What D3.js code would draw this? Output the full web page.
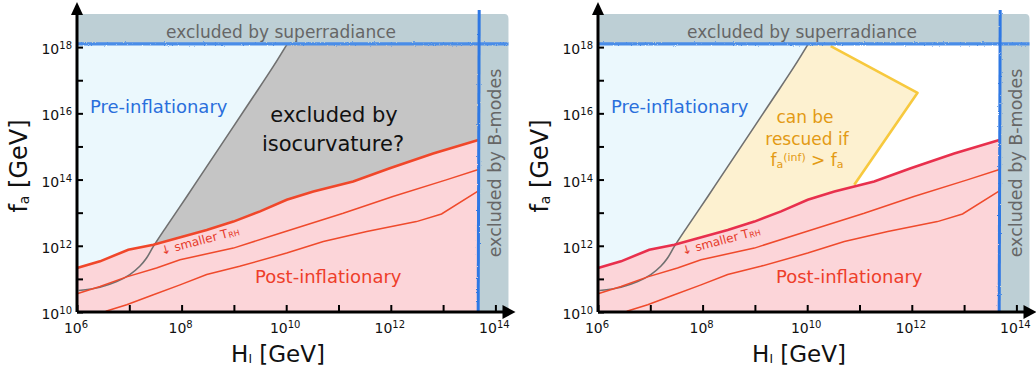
<!DOCTYPE html>
<html>
<head>
<meta charset="utf-8">
<script src="https://cdn.jsdelivr.net/npm/d3@7"></script>
<style>
  body { margin: 0; background: #fff; }
  svg { display: block; }
  text { font-family: "DejaVu Sans", sans-serif; }
</style>
</head>
<body>
<svg id="chart" width="1036" height="367"></svg>
<script>
// All values are log10 exponents: H_I and f_a in GeV.
const xTickExp = [6, 7, 8, 9, 10, 11, 12, 13, 14];
const xLabelExp = [6, 8, 10, 12, 14];
const yTickExp = [10, 11, 12, 13, 14, 15, 16, 17, 18];
const yLabelExp = [10, 12, 14, 16, 18];

// Boundary between pre- and post-inflationary PQ breaking
const boundaryHI = [6.03, 6.44, 6.76, 7.01, 7.20, 7.33, 7.46, 7.71, 8.10, 8.48, 8.99, 9.37, 9.75, 10.02];
const boundaryFa = [10.65, 10.75, 10.92, 11.13, 11.38, 11.63, 11.98, 12.58, 13.49, 14.39, 15.60, 16.50, 17.41, 18.10];

// Post-inflationary upper edge for three reheating temperatures
const reheatHighHI = [6.0, 6.44, 6.98, 7.46, 8.03, 8.48, 8.99, 9.50, 10.01, 10.52, 11.28, 11.98, 12.81, 13.69];
const reheatHighFa = [11.33, 11.53, 11.88, 12.03, 12.28, 12.48, 12.73, 13.04, 13.39, 13.64, 13.94, 14.34, 14.79, 15.20];
const reheatMidHI = [6.0, 6.44, 6.95, 7.52, 7.97, 8.99, 9.88, 11.09, 12.04, 13.06, 13.69];
const reheatMidFa = [10.55, 10.77, 11.06, 11.33, 11.58, 11.93, 12.38, 12.98, 13.49, 13.99, 14.31];
const reheatLowHI = [6.55, 6.95, 7.46, 7.97, 8.48, 9.11, 10.01, 10.71, 11.54, 12.49, 12.97, 13.69];
const reheatLowFa = [10.02, 10.22, 10.52, 10.82, 11.13, 11.38, 11.78, 12.13, 12.43, 12.73, 12.96, 13.67];

// Exclusion limits
const superradianceFa = 18.1;
const bModesHI = 13.69;

// Region that can be rescued if f_a during inflation exceeds f_a
const rescueHI = [10.45, 12.11, 10.90];
const rescueFa = [18.03, 16.62, 13.84];

const xMinExp = 6, xMaxExp = 14.25, yMinExp = 10, yMaxExp = 19;

const svg = d3.select("#chart");
const defs = svg.append("defs");
const rough = defs.append("filter").attr("id", "rough")
  .attr("filterUnits", "userSpaceOnUse")
  .attr("x", 0).attr("y", 0).attr("width", 1036).attr("height", 367);
rough.append("feTurbulence").attr("type", "fractalNoise").attr("baseFrequency", 0.9)
  .attr("numOctaves", 2).attr("result", "noise");
rough.append("feDisplacementMap").attr("in", "SourceGraphic").attr("in2", "noise")
  .attr("scale", 2.2).attr("xChannelSelector", "R").attr("yChannelSelector", "G");

const pts = (hs, fs) => hs.map((h, i) => [Math.pow(10, h), Math.pow(10, fs[i])]);

function drawPanel(ox, variant) {
  const g = svg.append("g");
  const x = d3.scaleLog().domain([Math.pow(10, xMinExp), Math.pow(10, xMaxExp)])
    .range([ox, ox + (xMaxExp - xMinExp) * 52.3]);
  const y = d3.scaleLog().domain([Math.pow(10, yMinExp), Math.pow(10, yMaxExp)])
    .range([312, 14]);
  const E = v => Math.pow(10, v);
  const line = d3.line().x(d => x(d[0])).y(d => y(d[1]));
  const smooth = d3.line().x(d => x(d[0])).y(d => y(d[1])).curve(d3.curveCatmullRom);

  const boundary = pts(boundaryHI, boundaryFa);
  const high = pts(reheatHighHI, reheatHighFa);
  const mid = pts(reheatMidHI, reheatMidFa);
  const low = pts(reheatLowHI, reheatLowFa);

  // pre-inflationary background
  g.append("rect")
    .attr("x", x(E(xMinExp))).attr("y", y(E(superradianceFa)))
    .attr("width", x(E(bModesHI)) - x(E(xMinExp)))
    .attr("height", y(E(yMinExp)) - y(E(superradianceFa)))
    .attr("fill", "#ebf8fd");

  // region right of the boundary curve
  const right = boundary.concat([[E(bModesHI), E(superradianceFa)], [E(bModesHI), E(yMinExp)], [E(boundaryHI[0]), E(yMinExp)]]);
  g.append("path").attr("d", smooth(boundary) + line(right.slice(boundary.length - 1)).replace("M", "L") + "Z")
    .attr("fill", variant === 0 ? "#c5c5c5" : "#ffffff");

  if (variant === 1) {
    const rescue = pts(rescueHI, rescueFa);
    const poly = [[E(rescueHI[0]), E(superradianceFa)]].concat(rescue, [[E(rescueHI[2]), E(yMinExp)], [E(boundaryHI[0]), E(yMinExp)]]);
    g.append("path").attr("d", smooth(boundary) + line(poly).replace("M", "L") + "Z")
      .attr("fill", "#fdf1d0");
    g.append("path").attr("d", line(rescue)).attr("fill", "none")
      .attr("stroke", "#f7c93e").attr("stroke-width", 2.6).attr("stroke-linejoin", "round");
  }

  // post-inflationary region
  const pinkPoly = high.concat([[E(bModesHI), E(yMinExp)], [E(xMinExp), E(yMinExp)]]);
  g.append("path").attr("d", line(pinkPoly) + "Z").attr("fill", "#fcd5d9");

  // boundary curve
  g.append("path").attr("d", smooth(boundary)).attr("fill", "none")
    .attr("stroke", "#707070").attr("stroke-width", 1.6);

  // reheating lines
  g.append("path").attr("d", line(low)).attr("fill", "none")
    .attr("stroke", "#ef4a2c").attr("stroke-width", 1.5);
  g.append("path").attr("d", line(mid)).attr("fill", "none")
    .attr("stroke", "#ef4a2c").attr("stroke-width", 1.5);
  g.append("path").attr("d", line(high)).attr("fill", "none")
    .attr("stroke", variant === 0 ? "#f0472a" : "#e8304d").attr("stroke-width", 2.6);

  // exclusion bands (superradiance on top, B-modes on the right)
  const bx0 = x(E(bModesHI)), bx1 = x(E(xMaxExp)), by0 = y(E(yMaxExp)), by1 = y(E(superradianceFa));
  const left = x(E(xMinExp)), bottom = y(E(yMinExp));
  g.append("path")
    .attr("d", `M${left},${by0} L${bx1 - 4},${by0} Q${bx1},${by0} ${bx1},${by0 + 5} L${bx1},${bottom} L${bx0},${bottom} L${bx0},${by1} L${left},${by1} Z`)
    .attr("fill", "#bdcfd5");

  // limit lines
  g.append("line").attr("x1", left).attr("x2", bx1).attr("y1", by1).attr("y2", by1)
    .attr("stroke", "#4a8de8").attr("stroke-width", 3.2).attr("filter", "url(#rough)");
  g.append("line").attr("x1", bx0).attr("x2", bx0 - 1).attr("y1", 10).attr("y2", bottom)
    .attr("stroke", "#2f78e4").attr("stroke-width", 3).attr("filter", "url(#rough)");

  // axes with inward ticks
  const xAxis = d3.axisBottom(x).tickValues(xTickExp.map(E)).tickSize(-7).tickSizeOuter(0).tickFormat("");
  const gx = g.append("g").attr("transform", `translate(0,${bottom})`).call(xAxis);
  gx.select(".domain").attr("stroke", "#000").attr("stroke-width", 3)
    .attr("d", `M${left},0 H${bx1 - 4}`);
  gx.selectAll(".tick line").attr("stroke", "#000").attr("stroke-width", 2);

  const yAxis = d3.axisLeft(y).tickValues(yTickExp.map(E)).tickSize(-6).tickSizeOuter(0).tickFormat("");
  const gy = g.append("g").attr("transform", `translate(${left},0)`).call(yAxis);
  gy.select(".domain").attr("stroke", "#000").attr("stroke-width", 3)
    .attr("d", `M0,${bottom} V12`);
  gy.selectAll(".tick line").attr("stroke", "#000").attr("stroke-width", 2);

  // arrow heads
  g.append("path").attr("d", `M${left - 6},15 L${left + 6},15 L${left},2 Z`).attr("fill", "#000");
  g.append("path").attr("d", `M${bx1 - 6},${bottom - 7} L${bx1 - 6},${bottom + 7} L${bx1 + 7},${bottom} Z`).attr("fill", "#000");

  // tick labels
  xLabelExp.forEach(e => {
    const t = g.append("text").attr("x", x(E(e)) - 1).attr("y", 333)
      .attr("text-anchor", "middle").attr("font-size", 14).attr("fill", "#111");
    t.append("tspan").text("10");
    t.append("tspan").attr("dy", -5).attr("font-size", 10).text(e);
  });
  yLabelExp.forEach(e => {
    const t = g.append("text").attr("x", left - 5).attr("y", y(E(e)) + 7)
      .attr("text-anchor", "end").attr("font-size", 14).attr("fill", "#111");
    t.append("tspan").text("10");
    t.append("tspan").attr("dy", -5).attr("font-size", 10).text(e);
  });

  // axis titles
  const xt = g.append("text").attr("x", ox + 201).attr("y", 362).attr("text-anchor", "middle")
    .attr("font-size", 23).attr("fill", "#111");
  xt.append("tspan").text("H");
  xt.append("tspan").attr("font-size", 12).attr("dy", 1).text("I");
  xt.append("tspan").attr("dy", -1).text(" [GeV]");

  const yt = g.append("text").attr("transform", `translate(${ox - 50},166) rotate(-90)`)
    .attr("text-anchor", "middle").attr("font-size", 24).attr("fill", "#111");
  yt.append("tspan").text("f");
  yt.append("tspan").attr("font-size", 14).attr("dy", 2).text("a");
  yt.append("tspan").attr("dy", -2).text(" [GeV]");

  // band labels
  g.append("text").attr("x", ox + 204).attr("y", 38).attr("text-anchor", "middle")
    .attr("font-size", 17).attr("fill", "#666").text("excluded by superradiance");
  g.append("text").attr("transform", `translate(${ox + 424},163) rotate(-90)`)
    .attr("text-anchor", "middle").attr("font-size", 17.5).attr("fill", "#666").text("excluded by B-modes");

  // region labels
  g.append("text").attr("x", ox + 13).attr("y", 113).attr("font-size", 18)
    .attr("fill", "#2a6fdc").text("Pre-inflationary");
  g.append("text").attr("x", ox + 178).attr("y", 283).attr("font-size", 18)
    .attr("fill", "#ee3e2a").text("Post-inflationary");

  const tr = g.append("text").attr("transform", `translate(${ox + 85},255) rotate(-15)`)
    .attr("font-size", 12).attr("fill", "#e63b2a");
  tr.append("tspan").text("\u2193 smaller T");
  tr.append("tspan").attr("font-size", 8).attr("dy", 1).text("RH");

  if (variant === 0) {
    g.append("text").attr("x", ox + 257).attr("y", 122).attr("text-anchor", "middle")
      .attr("font-size", 21).attr("fill", "#111").text("excluded by");
    g.append("text").attr("x", ox + 256).attr("y", 151).attr("text-anchor", "middle")
      .attr("font-size", 21).attr("fill", "#111").text("isocurvature?");
  } else {
    const c = "#e39a14";
    g.append("text").attr("x", ox + 207).attr("y", 123).attr("text-anchor", "middle")
      .attr("font-size", 17).attr("fill", c).text("can be");
    g.append("text").attr("x", ox + 209).attr("y", 145).attr("text-anchor", "middle")
      .attr("font-size", 17).attr("fill", c).text("rescued if");
    const f = g.append("text").attr("x", ox + 209).attr("y", 166).attr("text-anchor", "middle")
      .attr("font-size", 17).attr("fill", c);
    f.append("tspan").text("f");
    f.append("tspan").attr("font-size", 11).attr("dy", 2).text("a");
    f.append("tspan").attr("font-size", 11).attr("dy", -7).text("(inf)");
    f.append("tspan").attr("dy", 5).text(" > f");
    f.append("tspan").attr("font-size", 11).attr("dy", 2).text("a");
  }
}

drawPanel(77, 0);
drawPanel(598, 1);
</script>
</body>
</html>
